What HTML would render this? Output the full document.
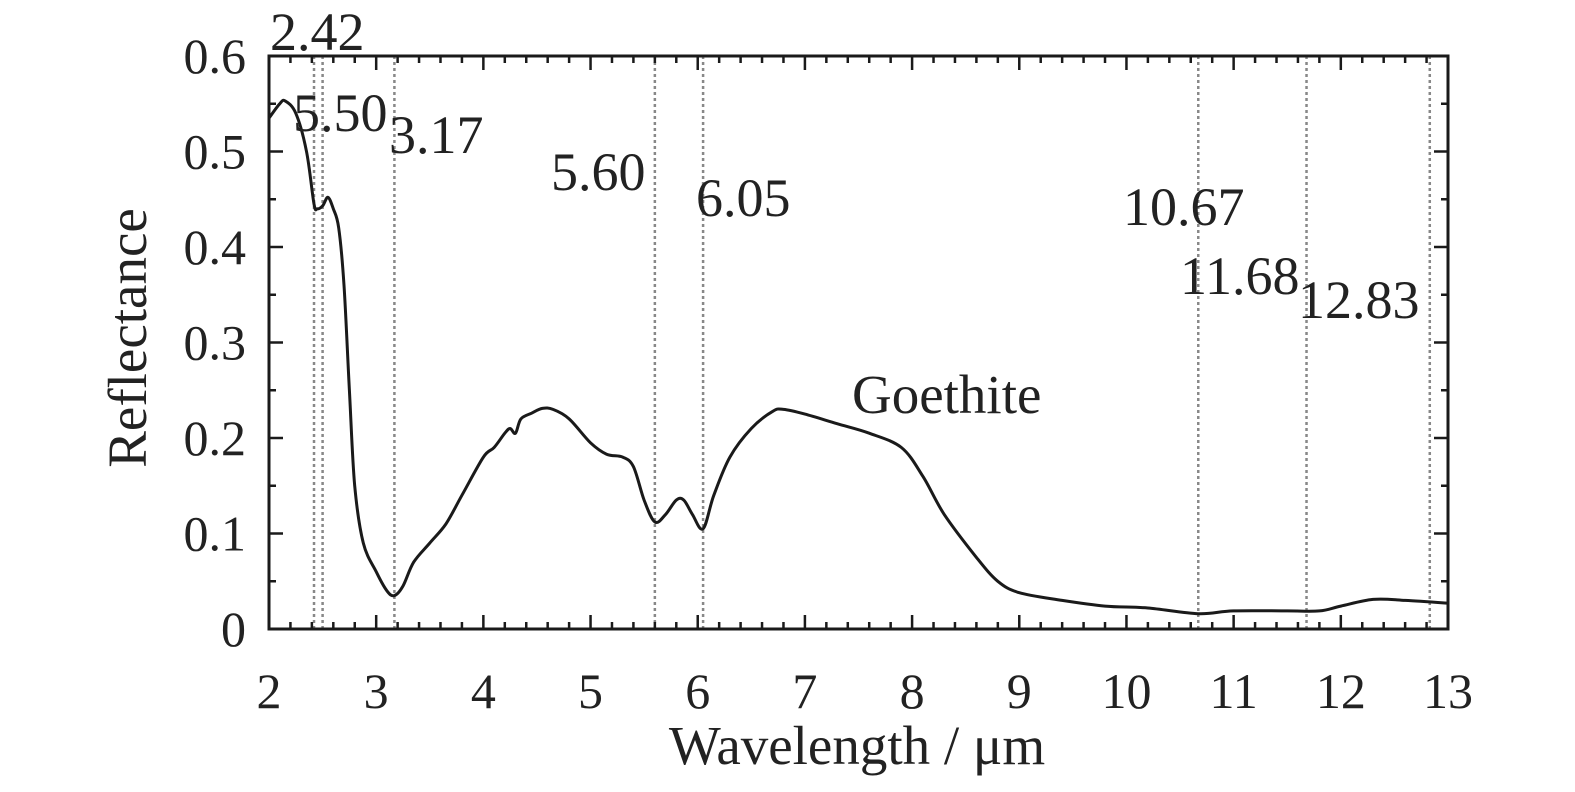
<!DOCTYPE html>
<html><head><meta charset="utf-8"><style>
html,body{margin:0;padding:0;background:#fff;}
svg text{font-family:"Liberation Serif",serif;fill:#222;}
</style></head><body>
<svg id="chart" width="1575" height="787" xmlns="http://www.w3.org/2000/svg">
<g id="grid"></g>
<g id="axes"></g>
<path id="curve" fill="none" stroke="#1a1a1a" stroke-width="3" stroke-linejoin="round"/>
<g id="labels"></g>
<text x="852" y="413" font-size="55">Goethite</text>
<text x="857" y="764" font-size="55" text-anchor="middle">Wavelength / μm</text>
<text x="146" y="338" font-size="55" text-anchor="middle" transform="rotate(-90 146 338)">Reflectance</text>
</svg>
<script>
const wavelengths=[2.0,2.1,2.15,2.25,2.35,2.42,2.45,2.5,2.55,2.6,2.65,2.7,2.75,2.8,2.88,3.0,3.1,3.17,3.25,3.35,3.5,3.65,3.8,4.0,4.1,4.2,4.25,4.3,4.35,4.45,4.55,4.65,4.8,5.0,5.15,5.3,5.4,5.5,5.6,5.7,5.8,5.87,5.95,6.05,6.15,6.3,6.5,6.7,6.8,7.0,7.3,7.6,7.9,8.1,8.3,8.6,8.8,9.0,9.4,9.8,10.2,10.67,11.0,11.5,11.8,12.0,12.3,12.6,13.0];
const reflectance=[0.535,0.55,0.553,0.54,0.50,0.445,0.44,0.443,0.452,0.44,0.42,0.36,0.25,0.15,0.09,0.06,0.04,0.035,0.045,0.07,0.09,0.11,0.14,0.18,0.19,0.205,0.21,0.205,0.22,0.226,0.231,0.23,0.22,0.195,0.183,0.18,0.17,0.135,0.112,0.12,0.135,0.135,0.12,0.105,0.14,0.18,0.21,0.228,0.23,0.225,0.215,0.205,0.19,0.16,0.12,0.075,0.05,0.038,0.03,0.024,0.022,0.016,0.019,0.019,0.019,0.024,0.031,0.03,0.027];
const markerValues=[2.42,2.50,3.17,5.60,6.05,10.67,11.68,12.83];
const markerLabels=["2.42","5.50","3.17","5.60","6.05","10.67","11.68","12.83"];
const xTickLabels=["2","3","4","5","6","7","8","9","10","11","12","13"];
const yTickLabels=["0","0.1","0.2","0.3","0.4","0.5","0.6"];

const L=269,R=1448,T=56,B=629;
const xs=v=>L+(v-2)/11*(R-L);
const ys=v=>B-v/0.6*(B-T);
const NS="http://www.w3.org/2000/svg";
function mk(tag,attrs,parent,txt){const e=document.createElementNS(NS,tag);for(const k in attrs)e.setAttribute(k,attrs[k]);if(txt!==undefined)e.textContent=txt;parent.appendChild(e);return e;}
const grid=document.getElementById('grid'),axes=document.getElementById('axes'),labels=document.getElementById('labels');
markerValues.forEach((v,i)=>{
  const l=mk('line',{x1:xs(v),x2:xs(v),y1:T,y2:B,stroke:'#888','stroke-width':2.5,'stroke-dasharray':'3,3'},grid);
  
  
});
const labelPos=[[270,50],[293,131],[389,153],[551,190],[696,216],[1123,225],[1180,294],[1298,318]];
markerLabels.forEach((t,i)=>{
  const e=mk('text',{x:labelPos[i][0],y:labelPos[i][1],'font-size':54},labels,t);
  
  
});
const fr=mk('rect',{x:L,y:T,width:R-L,height:B-T,fill:'none',stroke:'#1a1a1a','stroke-width':3},axes);


for(let k=0;k<=55;k++){
  const v=2+k*0.2,x=xs(v),major=k%5===0,len=major?14:7;
  mk('line',{x1:x,x2:x,y1:B,y2:B-len,stroke:'#1a1a1a','stroke-width':2.5},axes);
  mk('line',{x1:x,x2:x,y1:T,y2:T+len,stroke:'#1a1a1a','stroke-width':2.5},axes);
}
xTickLabels.forEach((t,i)=>{
  const e=mk('text',{x:xs(+t),y:708,'font-size':50,'text-anchor':'middle'},axes,t);
  
  
});
for(let k=0;k<=12;k++){
  const v=k*0.05,y=ys(v),major=k%2===0,len=major?14:7;
  mk('line',{x1:L,x2:L+len,y1:y,y2:y,stroke:'#1a1a1a','stroke-width':2.5},axes);
  mk('line',{x1:R,x2:R-len,y1:y,y2:y,stroke:'#1a1a1a','stroke-width':2.5},axes);
}
yTickLabels.forEach((t,i)=>{
  const e=mk('text',{x:246,y:ys(+t)+17,'font-size':50,'text-anchor':'end'},axes,t);
  
  
});
// smooth Catmull-Rom path
const P=wavelengths.map((w,i)=>[xs(w),ys(reflectance[i])]);
let d='M'+P[0][0].toFixed(1)+','+P[0][1].toFixed(1);
for(let i=0;i<P.length-1;i++){
  const p0=P[Math.max(0,i-1)],p1=P[i],p2=P[i+1],p3=P[Math.min(P.length-1,i+2)];
  const c1=[p1[0]+(p2[0]-p0[0])/6,p1[1]+(p2[1]-p0[1])/6],c2=[p2[0]-(p3[0]-p1[0])/6,p2[1]-(p3[1]-p1[1])/6];
  d+='C'+c1[0].toFixed(1)+','+c1[1].toFixed(1)+' '+c2[0].toFixed(1)+','+c2[1].toFixed(1)+' '+p2[0].toFixed(1)+','+p2[1].toFixed(1);
}
document.getElementById('curve').setAttribute('d',d);
</script>
</body></html>
